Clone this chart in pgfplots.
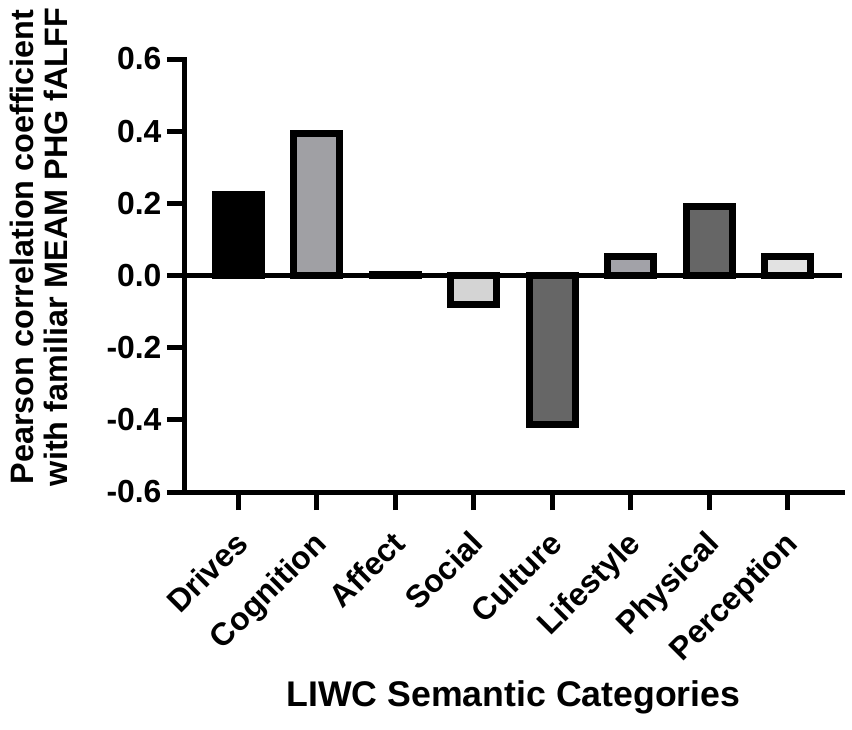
\documentclass[border=0pt]{standalone}
\usepackage{fontspec}
\setmainfont{Liberation Sans}
\usepackage{pgfplots}
\pgfplotsset{compat=1.18}
\definecolor{cog}{HTML}{A0A0A4}
\definecolor{aff}{HTML}{808080}
\definecolor{soc}{HTML}{D4D4D4}
\definecolor{cul}{HTML}{666666}
\definecolor{lif}{HTML}{A2A2A8}
\definecolor{phy}{HTML}{666666}
\definecolor{per}{HTML}{E2E2E2}
\begin{document}
\begin{tikzpicture}
\begin{axis}[
  scale only axis, width=657bp, height=433bp,
  xmin=-0.675, xmax=7.69, ymin=-0.6, ymax=0.6,
  axis lines*=left,
  axis line style={line width=5bp, line cap=rect},
  every tick/.style={black, line width=5bp},
  major tick length=18bp, tick align=outside,
  xtick={0,1,2,3,4,5,6,7},
  xticklabels={Drives,Cognition,Affect,Social,Culture,Lifestyle,Physical,Perception},
  ytick={-0.6,-0.4,-0.2,0,0.2,0.4,0.6},
  yticklabel style={xshift=-2bp, /pgf/number format/fixed, /pgf/number format/fixed zerofill, /pgf/number format/precision=1, /pgf/number format/assume math mode=true},
  ticklabel style={font=\bfseries\fontsize{32}{32}\selectfont},
  xticklabel style={rotate=45, anchor=north east, inner sep=0pt, xshift=-16.7bp, yshift=-10bp},
  ybar, bar width=46bp, bar shift=0pt,
  clip=false,
  xlabel={LIWC Semantic Categories},
  xlabel style={font=\bfseries\fontsize{35.8}{36}\selectfont, at={(axis description cs:0.5,-0.475)}, anchor=center},
  ylabel={Pearson correlation coefficient\\with familiar MEAM PHG fALFF},
  ylabel style={font=\bfseries\fontsize{32.5}{34}\selectfont, align=center, at={(axis description cs:-0.222,0.566)}, anchor=center},
]
\addplot[fill=black, draw=black, line width=7bp] coordinates {(0,0.225)};
\addplot[fill=cog, draw=black, line width=7bp] coordinates {(1,0.394)};
\addplot[fill=aff, draw=black, line width=7bp] coordinates {(2,0.002)};
\addplot[fill=soc, draw=black, line width=7bp] coordinates {(3,-0.08)};
\addplot[fill=cul, draw=black, line width=7bp] coordinates {(4,-0.412)};
\addplot[fill=lif, draw=black, line width=7bp] coordinates {(5,0.052)};
\addplot[fill=phy, draw=black, line width=7bp] coordinates {(6,0.19)};
\addplot[fill=per, draw=black, line width=7bp] coordinates {(7,0.054)};
\addplot[sharp plot, black, line width=5bp, forget plot] coordinates {(-0.675,0) (7.69,0)};
\coordinate (bl) at (rel axis cs:0,0);
\end{axis}
\pgfresetboundingbox
\path ([shift={(-185bp,-238bp)}]bl) rectangle ([shift={(667bp,492bp)}]bl);
\end{tikzpicture}
\end{document}
